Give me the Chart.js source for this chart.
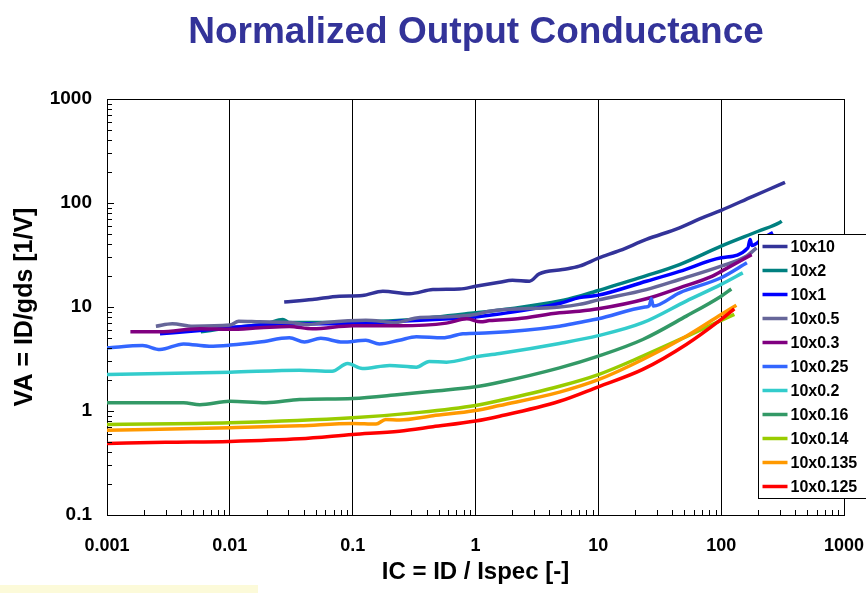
<!DOCTYPE html>
<html>
<head>
<meta charset="utf-8">
<title>Normalized Output Conductance</title>
<script src="https://cdn.jsdelivr.net/npm/chart.js@4/dist/chart.umd.min.js"></script>
<style>
  html, body { margin: 0; padding: 0; background: #fff; }
  #wrap { position: relative; width: 866px; height: 593px; overflow: hidden; }
  #c { position: absolute; left: 0; top: 0; }
  #band { position: absolute; left: 0; top: 585px; width: 258px; height: 8px; background: #fcfad9; }
</style>
</head>
<body>
<div id="wrap">
  <canvas id="c" width="866" height="593"></canvas>
  <div id="band"></div>
</div>
<script>
// Axis ticks (decades) and their labels
const xTicks = [0.001, 0.01, 0.1, 1, 10, 100, 1000];
const xTickLabels = ['0.001', '0.01', '0.1', '1', '10', '100', '1000'];
const yTicks = [0.1, 1, 10, 100, 1000];
const yTickLabels = ['0.1', '1', '10', '100', '1000'];

// Device geometries (W x L) shown in the legend
const seriesNames = ['10x10', '10x2', '10x1', '10x0.5', '10x0.3', '10x0.25',
                     '10x0.2', '10x0.16', '10x0.14', '10x0.135', '10x0.125'];

// Measured curves: IC = ID/Ispec and VA = ID/gds [1/V]
const ic_10x10 = [0.0277, 0.047, 0.078, 0.12, 0.176, 0.29, 0.45, 0.74, 1.0, 1.57, 2.0, 2.75, 3.3, 5.1, 7.0, 10, 15, 24.6, 45.8, 70, 100, 181, 300, 331];
const va_10x10 = [11.2, 11.8, 12.7, 12.9, 14.2, 13.4, 14.7, 14.9, 15.8, 17.3, 18.1, 17.7, 20.8, 22.9, 24.7, 29.5, 35, 44.6, 57.7, 72, 85, 116, 150, 158];

const ic_10x2 = [0.0058, 0.01, 0.02, 0.027, 0.0305, 0.1, 0.13, 0.3, 1.0, 2.0, 4.83, 7.0, 10, 24.6, 45.8, 100, 200, 300, 311];
const va_10x2 = [5.77, 6.3, 6.9, 7.6, 7.1, 7.1, 7.2, 7.6, 8.8, 9.7, 11.4, 12.7, 14.4, 20.0, 25.6, 38.5, 53.5, 65, 67];

const ic_10x1 = [0.0027, 0.0057, 0.01, 0.0175, 0.037, 0.1, 0.24, 0.61, 1.0, 1.5, 4.83, 7.0, 10, 24.6, 45.8, 100, 165, 172, 178, 220, 264];
const va_10x1 = [5.53, 5.93, 6.3, 6.7, 6.9, 6.9, 7.3, 7.7, 8.0, 8.5, 10.8, 12.3, 13.0, 17.7, 22.0, 29.7, 37, 44.6, 39, 46, 51.9];

const ic_10x0_5 = [0.0025, 0.0034, 0.005, 0.01, 0.0118, 0.0175, 0.0305, 0.044, 0.06, 0.128, 0.226, 0.33, 0.6, 1.0, 1.3, 4.83, 7.0, 10, 24.6, 45.8, 100, 160, 194];
const va_10x0_5 = [6.53, 6.9, 6.53, 6.7, 7.3, 7.2, 7.1, 6.8, 7.1, 7.45, 7.1, 7.85, 8.05, 8.46, 9.1, 10.0, 10.6, 11.7, 14.7, 18.4, 24.7, 30.7, 37];

const ic_10x0_3 = [0.00155, 0.0027, 0.0057, 0.01, 0.0175, 0.0305, 0.047, 0.1, 0.24, 0.58, 0.85, 1.1, 1.3, 2.2, 4.83, 7.0, 10, 24.6, 45.8, 85, 100, 177];
const va_10x0_3 = [5.77, 5.77, 6.17, 6.1, 6.3, 6.5, 6.17, 6.6, 6.6, 7.0, 7.7, 7.2, 7.4, 7.7, 8.8, 9.1, 9.6, 12.0, 15.3, 19.8, 22.0, 31.9];

const ic_10x0_25 = [0.001, 0.00195, 0.0027, 0.0042, 0.0068, 0.01, 0.0175, 0.0305, 0.0405, 0.055, 0.083, 0.128, 0.165, 0.24, 0.33, 0.54, 0.79, 1.3, 4.83, 7.0, 10, 24, 26, 27, 28, 45.8, 100, 162];
const va_10x0_25 = [4.05, 4.26, 3.9, 4.42, 4.2, 4.3, 4.6, 5.05, 4.6, 5.0, 4.6, 4.79, 4.42, 4.79, 5.17, 5.05, 5.53, 5.64, 6.53, 7.1, 7.7, 10.0, 10.3, 12.0, 10.2, 13.7, 19.1, 26.6];

const ic_10x0_2 = [0.001, 0.01, 0.037, 0.068, 0.091, 0.12, 0.2, 0.33, 0.42, 0.58, 1.0, 1.57, 4.83, 10, 23, 52, 100, 150];
const va_10x0_2 = [2.24, 2.36, 2.47, 2.41, 2.86, 2.56, 2.74, 2.64, 3.0, 2.95, 3.32, 3.57, 4.46, 5.3, 7.06, 11.4, 16.5, 21.3];

const ic_10x0_16 = [0.001, 0.0042, 0.0057, 0.01, 0.0197, 0.037, 0.1, 0.24, 0.45, 1.0, 1.57, 4.83, 10, 23, 52, 100, 121];
const va_10x0_16 = [1.2, 1.2, 1.15, 1.24, 1.2, 1.29, 1.32, 1.44, 1.55, 1.71, 1.89, 2.6, 3.37, 4.87, 8.17, 12.7, 14.9];

const ic_10x0_14 = [0.001, 0.01, 0.1, 0.35, 1.0, 1.57, 4.83, 10, 23, 52, 85, 128];
const va_10x0_14 = [0.742, 0.77, 0.86, 0.97, 1.13, 1.26, 1.73, 2.24, 3.37, 5.2, 6.8, 8.5];

const ic_10x0_135 = [0.001, 0.01, 0.037, 0.1, 0.155, 0.186, 0.24, 0.45, 1.0, 1.57, 4.83, 10, 23, 52, 100, 133];
const va_10x0_135 = [0.654, 0.69, 0.72, 0.76, 0.75, 0.83, 0.82, 0.9, 1.01, 1.13, 1.52, 2.0, 3.13, 5.24, 8.47, 10.4];

const ic_10x0_125 = [0.001, 0.003, 0.01, 0.037, 0.1, 0.24, 0.45, 1.0, 1.57, 4.83, 10, 23, 52, 100, 128];
const va_10x0_125 = [0.487, 0.5, 0.51, 0.54, 0.594, 0.64, 0.705, 0.8, 0.89, 1.24, 1.71, 2.51, 4.36, 7.6, 9.6];

const seriesIC = [ic_10x10, ic_10x2, ic_10x1, ic_10x0_5, ic_10x0_3, ic_10x0_25,
                  ic_10x0_2, ic_10x0_16, ic_10x0_14, ic_10x0_135, ic_10x0_125];
const seriesVA = [va_10x10, va_10x2, va_10x1, va_10x0_5, va_10x0_3, va_10x0_25,
                  va_10x0_2, va_10x0_16, va_10x0_14, va_10x0_135, va_10x0_125];

// Line colours per series
const seriesColors = ['#333399', '#008080', '#0000FF', '#666699', '#800080', '#3366FF',
                      '#33CCCC', '#339966', '#99CC00', '#FF9900', '#FF0000'];

const FONT = '"Liberation Sans", Arial, Helvetica, sans-serif';

const datasets = seriesNames.map((name, i) => ({
  label: name,
  data: seriesIC[i].map((v, k) => ({ x: v, y: seriesVA[i][k] })),
  borderColor: seriesColors[i],
  backgroundColor: seriesColors[i],
  borderWidth: 3.5,
  pointRadius: 0,
  fill: false,
  cubicInterpolationMode: 'monotone',
  order: seriesNames.length - i   // later series drawn on top
}));

// Title, inward minor ticks, plot frame and the boxed legend
const decor = {
  id: 'decor',
  afterDraw(chart) {
    const { ctx, chartArea: a, scales: { x, y } } = chart;
    ctx.save();

    // title
    ctx.fillStyle = '#333399';
    ctx.font = 'bold 37px ' + FONT;
    ctx.textAlign = 'center';
    ctx.textBaseline = 'alphabetic';
    ctx.fillText('Normalized Output Conductance', 476, 43);

    // frame: top and right edges
    ctx.strokeStyle = '#000';
    ctx.lineWidth = 1;
    ctx.beginPath();
    ctx.moveTo(Math.round(a.left) + 0.5, Math.round(a.top) + 0.5);
    ctx.lineTo(Math.round(a.right) + 0.5, Math.round(a.top) + 0.5);
    ctx.lineTo(Math.round(a.right) + 0.5, Math.round(a.bottom) + 0.5);
    ctx.stroke();

    // inward ticks on the bottom axis (minor)
    ctx.beginPath();
    for (let e = -3; e < 3; e++) {
      for (let m = 2; m <= 9; m++) {
        const px = Math.round(x.getPixelForValue(m * Math.pow(10, e))) + 0.5;
        ctx.moveTo(px, a.bottom);
        ctx.lineTo(px, a.bottom - 5);
      }
    }
    // inward ticks on the left axis (major and minor)
    for (let e = -1; e < 3; e++) {
      for (let m = 1; m <= 9; m++) {
        const py = Math.round(y.getPixelForValue(m * Math.pow(10, e))) + 0.5;
        ctx.moveTo(a.left, py);
        ctx.lineTo(a.left + (m === 1 ? 7 : 5), py);
      }
    }
    const pTop = Math.round(y.getPixelForValue(1000)) + 0.5;
    ctx.moveTo(a.left, pTop);
    ctx.lineTo(a.left + 7, pTop);
    ctx.stroke();

    // legend
    const lx = 758.5, ly = 234.5, lw = 120, lh = 264, step = 24;
    ctx.fillStyle = '#fff';
    ctx.fillRect(lx, ly, lw, lh);
    ctx.strokeStyle = '#000';
    ctx.lineWidth = 1;
    ctx.strokeRect(lx, ly, lw, lh);
    ctx.font = 'bold 16px ' + FONT;
    ctx.textAlign = 'left';
    ctx.textBaseline = 'middle';
    chart.data.datasets.forEach((ds, i) => {
      const cy = ly + 12 + i * step;
      ctx.strokeStyle = ds.borderColor;
      ctx.lineWidth = 3.5;
      ctx.beginPath();
      ctx.moveTo(lx + 4, cy);
      ctx.lineTo(lx + 29, cy);
      ctx.stroke();
      ctx.fillStyle = '#000';
      ctx.fillText(ds.label, lx + 32, cy + 1);
    });
    ctx.restore();
  }
};

new Chart(document.getElementById('c'), {
  type: 'line',
  data: { datasets },
  options: {
    responsive: false,
    animation: false,
    layout: { padding: { top: 99, right: 22, bottom: 0, left: 0 } },
    plugins: { legend: { display: false }, tooltip: { enabled: false }, title: { display: false } },
    scales: {
      x: {
        type: 'logarithmic',
        min: 0.001,
        max: 1000,
        afterBuildTicks: s => { s.ticks = xTicks.map(v => ({ value: v })); },
        afterFit: s => { s.height = 78; s.paddingLeft = 0; s.paddingRight = 0; },
        grid: { color: '#000', lineWidth: 1, drawTicks: false },
        border: { color: '#000', width: 1 },
        ticks: {
          autoSkip: false,
          maxRotation: 0,
          padding: 20,
          color: '#000',
          font: { family: FONT, size: 18, weight: 'bold' },
          callback: v => xTickLabels[xTicks.indexOf(v)]
        },
        title: {
          display: true,
          text: 'IC = ID / Ispec [-]',
          color: '#000',
          font: { family: FONT, size: 24, weight: 'bold' },
          padding: { top: 0, bottom: 6 }
        }
      },
      y: {
        type: 'logarithmic',
        min: 0.1,
        max: 1000,
        afterBuildTicks: s => { s.ticks = yTicks.map(v => ({ value: v })); },
        afterFit: s => { s.width = 107; s.paddingTop = 0; s.paddingBottom = 0; },
        grid: { display: false, drawTicks: false },
        border: { color: '#000', width: 1 },
        ticks: {
          padding: 15,
          color: '#000',
          font: { family: FONT, size: 19, weight: 'bold' },
          callback: v => yTickLabels[yTicks.indexOf(v)]
        },
        title: {
          display: true,
          text: 'VA = ID/gds [1/V]',
          color: '#000',
          font: { family: FONT, size: 25, weight: 'bold' },
          padding: { top: 10, bottom: 0 }
        }
      }
    }
  },
  plugins: [decor]
});
</script>
</body>
</html>
